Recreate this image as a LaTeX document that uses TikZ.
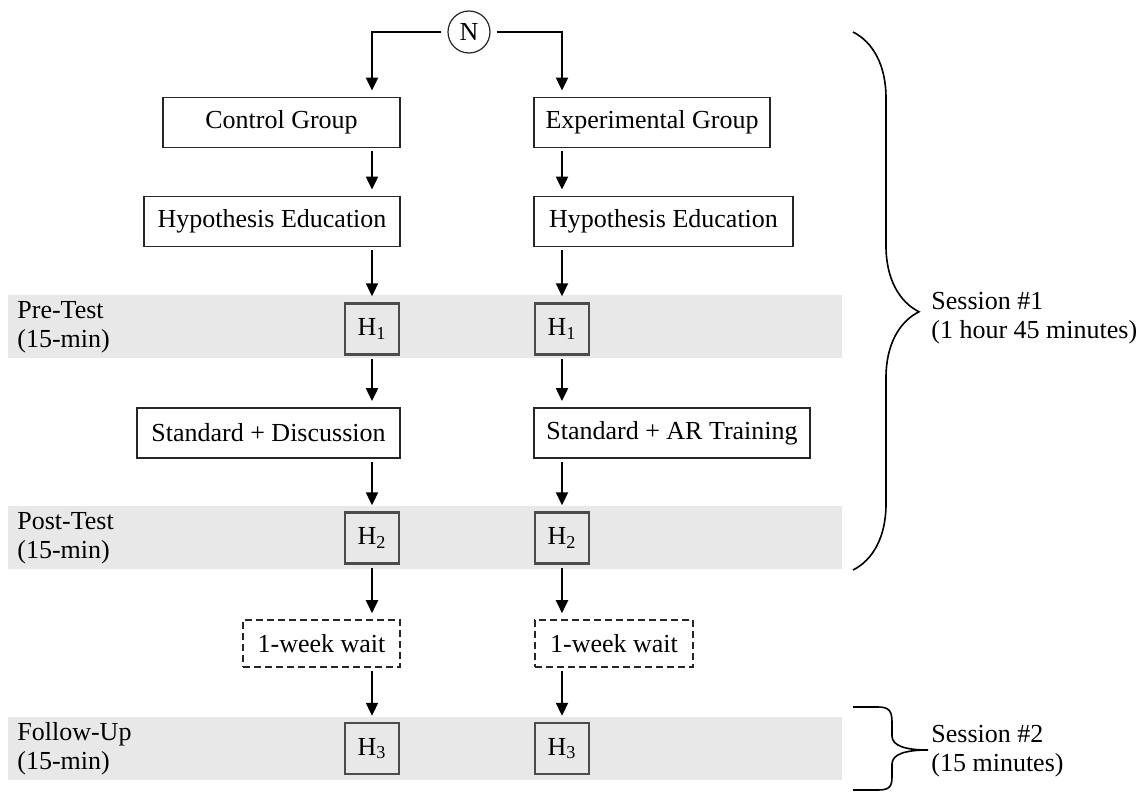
\documentclass[tikz,border=0pt]{standalone}
\usepackage{fontspec}
\setmainfont{Liberation Serif}
\usetikzlibrary{arrows.meta,decorations.pathreplacing}

\definecolor{band_gray}{RGB}{232,232,232}

\begin{document}
\begin{tikzpicture}[
    x=0.5pt, y=-0.5pt,
    every node/.style={font=\fontsize{13}{14.5}\selectfont},
% Block styles
    grp/.style={rectangle, draw=black!85, line width=0.9pt, inner sep=0pt, minimum height=25pt},
    hbox/.style={rectangle, draw=black!70, line width=1.2pt, inner sep=0pt, minimum width=27pt, minimum height=25.5pt},
    waitbox/.style={rectangle, draw=black!85, line width=0.8pt, dash pattern=on 3.5pt off 2pt, inner sep=0pt, minimum height=23.5pt},
    lbl/.style={anchor=west, align=left, inner sep=0pt},
    arr/.style={-{Triangle[width=6pt,length=6.5pt]}, line width=1pt, shorten <=1.5pt, shorten >=3pt}
]
\useasboundingbox (0,0) rectangle (1148,792);

% 1. Test bands
\fill[band_gray] (8,295) rectangle (842,358);
\fill[band_gray] (8,506) rectangle (842,569);
\fill[band_gray] (8,717) rectangle (842,780);
\node[lbl] (preLbl) at (17,327) {Pre-Test\\(15-min)};
\node[lbl] (postLbl) at (17,538) {Post-Test\\(15-min)};
\node[lbl] (follLbl) at (17,749) {Follow-Up\\(15-min)};

% 2. Columns
\coordinate (colL) at (372,0);
\coordinate (colR) at (562,0);

\node[circle, draw=black!85, line width=0.6pt, inner sep=0pt, minimum size=21pt] (N) at (469,32) {N};

\node[grp, minimum width=118.5pt] (ctrl) at (281.5,122.5) {Control Group};
\node[grp, minimum width=118pt] (expt) at (652,122.5) {Experimental Group};
\node[grp, minimum width=128pt] (hypL) at (272,221.5) {Hypothesis Education};
\node[grp, minimum width=129.5pt] (hypR) at (663.5,221.5) {Hypothesis Education};

\node[hbox] (h1L) at (372,329) {H\textsubscript{1}};
\node[hbox] (h1R) at (562,329) {H\textsubscript{1}};

\node[grp, minimum width=131.5pt] (stdL) at (268.5,433) {Standard + Discussion};
\node[grp, minimum width=138pt] (stdR) at (672,433) {Standard + AR Training};

\node[hbox] (h2L) at (372,538) {H\textsubscript{2}};
\node[hbox] (h2R) at (562,538) {H\textsubscript{2}};

\node[waitbox, minimum width=78.5pt] (waitL) at (321.5,643.5) {1-week wait};
\node[waitbox, minimum width=79pt] (waitR) at (614,643.5) {1-week wait};

\node[hbox] (h3L) at (372,748.5) {H\textsubscript{3}};
\node[hbox] (h3R) at (562,748.5) {H\textsubscript{3}};

% 3. Arrows
\draw[arr, shorten <=3pt] (N.west) -| (ctrl.north -| colL);
\draw[arr, shorten <=3pt] (N.east) -| (expt.north -| colR);
\draw[arr] (ctrl.south -| colL) -- (hypL.north -| colL);
\draw[arr] (expt.south -| colR) -- (hypR.north -| colR);
\draw[arr] (hypL.south -| colL) -- (h1L.north);
\draw[arr] (hypR.south -| colR) -- (h1R.north);
\draw[arr] (h1L.south) -- (stdL.north -| colL);
\draw[arr] (h1R.south) -- (stdR.north -| colR);
\draw[arr] (stdL.south -| colL) -- (h2L.north);
\draw[arr] (stdR.south -| colR) -- (h2R.north);
\draw[arr] (h2L.south) -- (waitL.north -| colL);
\draw[arr] (h2R.south) -- (waitR.north -| colR);
\draw[arr] (waitL.south -| colL) -- (h3L.north);
\draw[arr] (waitR.south -| colR) -- (h3R.north);

% 4. Sessions
\coordinate (sOneTop) at (853,32);
\coordinate (sOneBot) at (853,570);
\draw[decorate, decoration={brace, amplitude=33pt, aspect=0.52}, line width=0.8pt] (sOneTop) -- (sOneBot);
\node[lbl] (sOne) at (931,318) {Session \#1\\(1 hour 45 minutes)};

\draw[line width=0.8pt] (853,707) -- (878,707) .. controls (889,707) and (892,711) .. (892,722) -- (892,736)
    .. controls (892,746) and (906,750) .. (928,750) .. controls (906,750) and (892,754) .. (892,764)
    -- (892,777) .. controls (892,787) and (889,790) .. (878,790) -- (853,790);
\node[lbl] (sTwo) at (931,751) {Session \#2\\(15 minutes)};

\end{tikzpicture}
\end{document}
